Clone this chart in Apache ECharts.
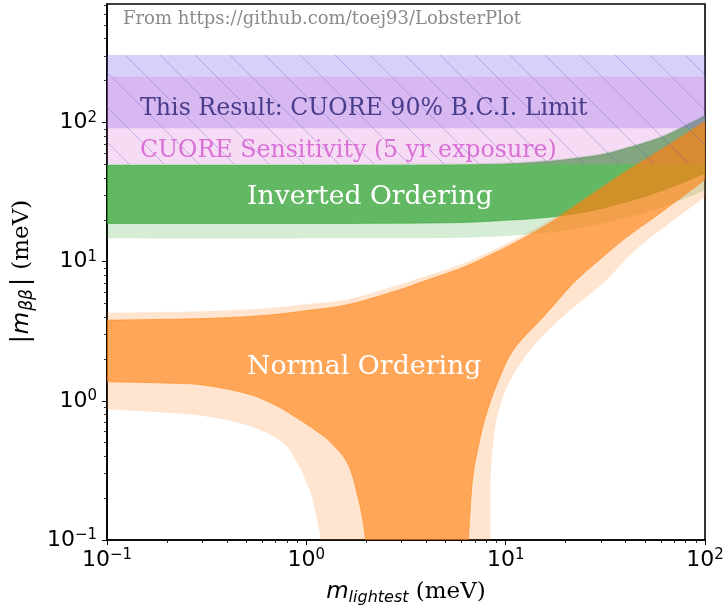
<!DOCTYPE html>
<html><head><meta charset="utf-8">
<script src="https://cdn.jsdelivr.net/npm/echarts@6/dist/echarts.min.js"></script>
<style>html,body{margin:0;padding:0;background:#fff}#c{width:724px;height:609px}</style>
</head><body><div id="c"></div>
<script>
// ---- axis ticks ----
const xTicks = [0.1, 1, 10, 100];
const yTicks = [0.1, 1, 10, 100];
const xMinorTicks = [0.2,0.3,0.4,0.5,0.6,0.7,0.8,0.9,2,3,4,5,6,7,8,9,20,30,40,50,60,70,80,90];
const yMinorTicks = [0.2,0.3,0.4,0.5,0.6,0.7,0.8,0.9,2,3,4,5,6,7,8,9,20,30,40,50,60,70,80,90,200,300,400,500,600,700];
const xRange = [0.1, 100];
const yRange = [0.1, 710];

// ---- CUORE bands (meV) ----
const cuoreLimit = [91, 305];
const cuoreSensitivity = [50, 213];

// ---- Inverted ordering band edges [m_lightest, m_bb] ----
const ioDarkUpper = [[0.1,49.2],[1,49.2],[5,49.5],[10,50.3],[15,52],[20,54],[30,58.5],[40,65],[60,78],[85,99],[100,112]];
const ioDarkLower = [[0.1,18.8],[1,18.8],[5,19.0],[10,19.8],[15,20.6],[20,21.6],[30,24],[50,29.5],[70,35],[100,43]];
const ioLightUpper = [[0.1,50.5],[1,50.5],[5,50.8],[10,51.6],[15,53.3],[20,55.4],[30,60],[40,66.5],[60,80],[85,101.5],[100,115]];
const ioLightLower = [[0.1,14.7],[1,14.7],[5,14.8],[10,15.3],[15,16],[20,16.8],[30,18.7],[50,22.5],[70,26.5],[100,32.5]];

// ---- Normal ordering band edges [m_lightest, m_bb] ----
const noDarkUpper = [[0.1,3.8],[0.3,3.9],[0.6,4.1],[1,4.45],[1.6,4.9],[2.8,6.15],[4,7.35],[6,9.0],[8.5,11.3],[12,14.5],[17,19.3],[25,28],[40,44],[60,63],[100,101]];
const noDarkLowerLeft = [[0.1,1.37],[0.2,1.34],[0.3,1.3],[0.5,1.13],[0.7,0.93],[0.9,0.75],[1.1,0.62],[1.33,0.5],[1.62,0.35],[1.82,0.2],[1.95,0.12],[2.02,0.07]];
const noDarkLowerRight = [[6.4,0.07],[6.5,0.1],[6.8,0.26],[7.25,0.45],[7.95,0.78],[9.1,1.35],[11,2.35],[15.6,4.07],[22,7.07],[30,10.5],[40,14.8],[60,22.5],[100,38.8]];
const noLightUpper = [[0.1,4.3],[0.3,4.4],[0.6,4.6],[1,4.95],[1.6,5.35],[2.8,6.7],[4,7.9],[6,9.6],[8.5,12],[12,15.3],[17,20.2],[25,29],[40,45.5],[60,65.5],[100,104]];
const noLightLowerLeft = [[0.1,0.87],[0.2,0.82],[0.3,0.78],[0.5,0.67],[0.75,0.51],[0.9,0.36],[1.0,0.26],[1.06,0.21],[1.12,0.15],[1.18,0.1],[1.2,0.07]];
const noLightLowerRight = [[8.4,0.07],[8.4,0.26],[8.6,0.45],[9.1,0.78],[10.4,1.35],[13.4,2.35],[19.5,4.07],[31,7.07],[45,12.2],[70,20],[100,29]];

// ---- texts ----
const sourceText = 'From https://github.com/toej93/LobsterPlot';
const limitText = 'This Result: CUORE 90% B.C.I. Limit';
const sensText = 'CUORE Sensitivity (5 yr exposure)';
const ioText = 'Inverted Ordering';
const noText = 'Normal Ordering';

const rev = a => a.slice().reverse();
const bandRect = b => [[[xRange[0], b[0]], [xRange[1], b[0]]], [[xRange[1], b[1]], [xRange[0], b[1]]]];

// each band = list of edges (data points); each edge is smoothed, edges joined straight
const edgesIOLight = [ioLightUpper, rev(ioLightLower)];
const edgesIODark = [ioDarkUpper, rev(ioDarkLower)];
const edgesNOLight = [noLightUpper, rev(noLightLowerRight), rev(noLightLowerLeft)];
const edgesNODark = [noDarkUpper, rev(noDarkLowerRight), rev(noDarkLowerLeft)];
const edgesHatch = bandRect([cuoreSensitivity[0], cuoreLimit[1]]);

function makeHatch() {
  const s = 35;
  const c = document.createElement('canvas');
  c.width = s; c.height = s;
  const g = c.getContext('2d');
  g.strokeStyle = 'rgba(100,85,200,0.34)';
  g.lineWidth = 1;
  g.beginPath();
  g.moveTo(-2, -2); g.lineTo(s + 2, s + 2);
  g.moveTo(-s - 2, -2); g.lineTo(2, s + 2);
  g.moveTo(s - 2, -2); g.lineTo(2 * s + 2, s + 2);
  g.stroke();
  return { image: c, repeat: 'repeat' };
}

// Catmull-Rom sampling in pixel space
function smoothEdge(px) {
  if (px.length < 3) return px.slice();
  const out = [px[0]];
  const N = 10;
  for (let i = 0; i < px.length - 1; i++) {
    const p0 = px[i - 1] || px[i], p1 = px[i], p2 = px[i + 1], p3 = px[i + 2] || px[i + 1];
    for (let k = 1; k <= N; k++) {
      const t = k / N, t2 = t * t, t3 = t2 * t;
      const f = (a, b, c, d) => 0.5 * ((2 * b) + (-a + c) * t + (2 * a - 5 * b + 4 * c - d) * t2 + (-a + 3 * b - 3 * c + d) * t3);
      out.push([f(p0[0], p1[0], p2[0], p3[0]), f(p0[1], p1[1], p2[1], p3[1])]);
    }
  }
  return out;
}

function band(edges, fill, stroke) {
  return {
    type: 'custom', coordinateSystem: 'cartesian2d', xAxisIndex: 0, yAxisIndex: 0,
    silent: true, clip: true, data: [edges[0][0]],
    renderItem: function (params, api) {
      const cs = params.coordSys;
      let pts = [];
      edges.forEach(e => { pts = pts.concat(smoothEdge(e.map(p => api.coord(p)))); });
      return {
        type: 'polygon',
        shape: { points: pts },
        style: { fill: fill, stroke: stroke || 'none', lineWidth: stroke ? 1 : 0 },
        clipPath: { type: 'rect', shape: { x: cs.x, y: cs.y, width: cs.width, height: cs.height } }
      };
    }
  };
}

const tickFmt = v => {
  const e = Math.round(Math.log10(v));
  return '{b|10}{s|' + (e < 0 ? '\u2212' + (-e) : e) + '}';
};
const tickRich = {
  b: { fontFamily: 'DejaVu Sans', fontSize: 22, color: '#000', lineHeight: 24 },
  s: { fontFamily: 'DejaVu Sans', fontSize: 15, color: '#000', lineHeight: 15, verticalAlign: 'top' }
};
const nameRich = {
  i: { fontFamily: 'DejaVu Sans', fontStyle: 'italic', fontSize: 23, color: '#000', lineHeight: 28 },
  sub: { fontFamily: 'DejaVu Sans', fontStyle: 'italic', fontSize: 16, color: '#000', lineHeight: 17, verticalAlign: 'bottom' },
  subb: { fontFamily: 'DejaVu Sans', fontStyle: 'italic', fontSize: 17, color: '#000', lineHeight: 17, verticalAlign: 'bottom', padding: [0, 2, 0, 1] },
  r: { fontFamily: 'DejaVu Sans', fontSize: 24, color: '#000', lineHeight: 28, padding: [0, 1, 0, 1] },
  t: { fontFamily: 'DejaVu Serif', fontSize: 23, color: '#000', lineHeight: 28 }
};

const chart = echarts.init(document.getElementById('c'), null, { renderer: 'canvas' });
const grid = { left: 107, right: 19, top: 4, bottom: 69, show: true, borderColor: '#000', borderWidth: 1.6, backgroundColor: '#fff', outerBoundsMode: 'none' };
const baseAxis = { type: 'log', logBase: 10, splitLine: { show: false }, minorTick: { show: false } };

chart.setOption({
  animation: false,
  backgroundColor: '#fff',
  grid: grid,
  xAxis: [
    Object.assign({}, baseAxis, {
      min: xRange[0], max: xRange[1], position: 'bottom',
      name: '{i|m}{sub|lightest}{t| (meV)}', nameLocation: 'middle', nameGap: 38,
      nameTextStyle: { rich: nameRich },
      axisLine: { show: true, lineStyle: { color: '#000', width: 1.6 } },
      axisTick: { show: true, inside: false, length: 5, lineStyle: { color: '#000', width: 1 }, customValues: xTicks },
      axisLabel: { show: true, margin: 8, formatter: tickFmt, rich: tickRich, customValues: xTicks, showMinLabel: true, showMaxLabel: true }
    }),
    Object.assign({}, baseAxis, {
      min: xRange[0], max: xRange[1], position: 'bottom',
      axisLine: { show: false },
      axisTick: { show: true, inside: false, length: 3, lineStyle: { color: '#000', width: 0.8 }, customValues: xMinorTicks },
      axisLabel: { show: false }
    })
  ],
  yAxis: [
    Object.assign({}, baseAxis, {
      min: yRange[0], max: yRange[1], position: 'left',
      name: '{r||}{i|m}{subb|\u03b2\u03b2}{r||}{t| (meV)}', nameLocation: 'middle', nameGap: 68, nameRotate: 90,
      nameTextStyle: { rich: nameRich },
      axisLine: { show: true, lineStyle: { color: '#000', width: 1.6 } },
      axisTick: { show: true, inside: false, length: 5, lineStyle: { color: '#000', width: 1 }, customValues: yTicks },
      axisLabel: { show: true, margin: 10, formatter: tickFmt, rich: tickRich, customValues: yTicks }
    }),
    Object.assign({}, baseAxis, {
      min: yRange[0], max: yRange[1], position: 'left', offset: 0,
      axisLine: { show: false },
      axisTick: { show: true, inside: false, length: 3, lineStyle: { color: '#000', width: 0.8 }, customValues: yMinorTicks },
      axisLabel: { show: false }
    })
  ],
  series: [
    band(edgesIOLight, 'rgba(44,160,44,0.2)'),
    band(edgesIODark, 'rgba(44,160,44,0.68)', 'rgba(44,160,44,0.5)'),
    band(bandRect(cuoreLimit), 'rgba(123,104,238,0.3)'),
    band(bandRect(cuoreSensitivity), 'rgba(218,112,214,0.25)'),
    band(edgesNOLight, 'rgba(255,127,14,0.2)'),
    band(edgesNODark, 'rgba(255,127,14,0.62)', 'rgba(255,127,14,0.5)'),
    band(edgesHatch, makeHatch())
  ],
  graphic: [
    { type: 'text', x: 123, y: 19, z: 100, style: { text: sourceText, fontFamily: 'DejaVu Serif', fontSize: 18, fill: '#8a8a8a', align: 'left', verticalAlign: 'middle' } },
    { type: 'text', x: 140, y: 109, z: 100, style: { text: limitText, fontFamily: 'DejaVu Serif', fontSize: 23.7, fill: '#483d8b', align: 'left', verticalAlign: 'middle' } },
    { type: 'text', x: 140, y: 151, z: 100, style: { text: sensText, fontFamily: 'DejaVu Serif', fontSize: 23.7, fill: '#da70d6', align: 'left', verticalAlign: 'middle' } },
    { type: 'text', x: 247, y: 197, z: 100, style: { text: ioText, fontFamily: 'DejaVu Serif', fontSize: 26.6, fill: '#ffffff', align: 'left', verticalAlign: 'middle' } },
    { type: 'text', x: 247, y: 367.5, z: 100, style: { text: noText, fontFamily: 'DejaVu Serif', fontSize: 26.8, fill: '#ffffff', align: 'left', verticalAlign: 'middle' } }
  ]
});
</script>
</body></html>
